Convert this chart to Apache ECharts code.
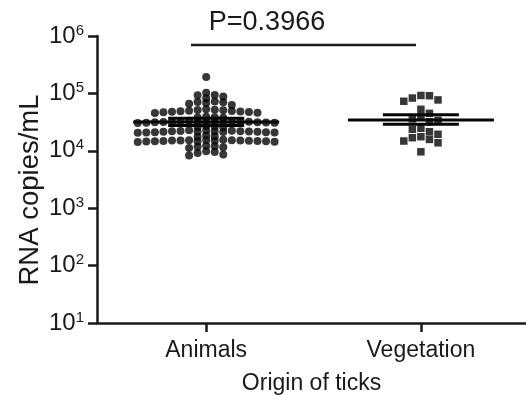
<!DOCTYPE html>
<html>
<head>
<meta charset="utf-8">
<script src="https://cdn.jsdelivr.net/npm/echarts@6/dist/echarts.min.js"></script>
<style>
  html, body { margin: 0; padding: 0; background: #fff; }
  #chart { width: 526px; height: 395px; }
</style>
</head>
<body>
<div id="chart"></div>
<script>
// data (RNA copies/mL)
const categories = ["Animals", "Vegetation"];
const animals = [
  193000,
  103000, 94000, 88000, 82000, 93000,
  72000, 68000, 63000, 70000, 66000, 71000,
  51000, 49000, 48000, 47000, 52000, 53000, 50000, 46000, 45500, 48500, 49500, 51500, 47500,
  39000, 38000, 37500, 38500,
  32000, 31500, 32500, 31000, 33000, 31800, 32200, 30800, 31200, 32800, 31600, 30500, 33500, 32400, 31400, 30900, 32100,
  26500, 26000, 25500, 27000,
  22000, 21500, 21800, 22500, 21200, 21000, 22200, 21600, 20800, 22800, 21400, 21900, 20600, 22400, 21100, 20900, 21700,
  18500, 18000, 17600,
  15000, 14800, 15200, 14600, 15400, 14500, 14900, 15100, 14700, 15300, 14400, 15600, 14300, 15050, 14850, 15150, 14650,
  12300, 11800, 11500, 12000, 11200,
  9800, 9500, 9200, 8600, 8300
];
const vegetation = [
  92000, 91000, 83000, 77000, 73000,
  52800, 44900, 39000, 36000, 34000, 32000,
  24700, 23700, 21500, 19400, 17600, 16900, 15800, 14800, 13800,
  9600
];
const means = [31800, 34500];
const upperBars = [37000, 42500];
const lowerBars = [27500, 29000];
const pLabel = "P=0.3966";

// layout
const catPos = [0.2545, 0.755];
const FONT = '"Liberation Sans", Arial, Helvetica, sans-serif';
const INK = "#1a1a1a";
const DOT = "#050505";

const chart = echarts.init(document.getElementById("chart"));

const option = {
  animation: false,
  backgroundColor: "#fff",
  textStyle: { fontFamily: FONT, color: INK },
  grid: { left: 97, right: 0, top: 36, bottom: 72, outerBoundsMode: "none", containLabel: false },
  xAxis: {
    type: "value",
    min: 0,
    max: 1,
    name: "Origin of ticks",
    nameLocation: "middle",
    nameGap: 49,
    nameTextStyle: { fontSize: 23, color: INK, fontFamily: FONT },
    axisLine: { show: true, lineStyle: { color: INK, width: 2.5 } },
    axisTick: { show: true, length: 9, customValues: catPos, lineStyle: { color: INK, width: 2.5 } },
    axisLabel: {
      customValues: catPos,
      margin: 16,
      fontSize: 23,
      color: INK,
      fontFamily: FONT,
      formatter: (v) => categories[catPos.indexOf(v)] || "",
    },
    splitLine: { show: false },
  },
  yAxis: {
    type: "log",
    logBase: 10,
    min: 10,
    max: 1000000,
    axisLine: { show: true, lineStyle: { color: INK, width: 2.5 } },
    axisTick: { show: true, length: 9, lineStyle: { color: INK, width: 2.5 } },
    axisLabel: {
      margin: 13,
      color: INK,
      formatter: (v) => "{b|10}{s|" + Math.round(Math.log10(v)) + "}",
      rich: {
        b: { fontSize: 24, fontFamily: FONT, color: INK, lineHeight: 26 },
        s: { fontSize: 15, fontFamily: FONT, color: INK, verticalAlign: "top", lineHeight: 15 },
      },
    },
    splitLine: { show: false },
  },
  graphic: [
    {
      type: "text",
      x: 30,
      y: 190,
      rotation: Math.PI / 2,
      style: { text: "RNA copies/mL", fontSize: 27.5, fontFamily: FONT, fill: INK, align: "center", verticalAlign: "middle" },
    },
    {
      type: "text",
      x: 267,
      y: 23,
      style: { text: pLabel, fontSize: 27, fontFamily: FONT, fill: INK, align: "center", verticalAlign: "middle" },
    },
    {
      type: "line",
      shape: { x1: 191, y1: 45, x2: 416, y2: 45 },
      style: { stroke: INK, lineWidth: 2.5 },
    },
  ],
  series: [],
};
chart.setOption(option);

// beeswarm: points sit in columns of fixed width, pushed sideways when too close vertically
const slotW = 8.55;
const pxPerUnit = chart.convertToPixel({ xAxisIndex: 0 }, 1) - chart.convertToPixel({ xAxisIndex: 0 }, 0);

function swarm(values, center, minSep) {
  const pts = values
    .map((v) => ({ v, py: chart.convertToPixel({ yAxisIndex: 0 }, v) }))
    .sort((a, b) => b.v - a.v);
  const cols = {};
  const out = [];
  pts.forEach((p) => {
    for (let i = 0; i < 80; i++) {
      const k = i === 0 ? 0 : i % 2 ? (i + 1) / 2 : -i / 2;
      const col = cols[k] || (cols[k] = []);
      if (col.every((y) => Math.abs(y - p.py) >= minSep)) {
        col.push(p.py);
        out.push([center + (k * slotW) / pxPerUnit, p.v]);
        break;
      }
    }
  });
  return out;
}

const barData = catPos.map((x, i) => [x, means[i], upperBars[i], lowerBars[i]]);

chart.setOption({
  series: [
    {
      type: "custom",
      data: barData,
      z: 3,
      renderItem: (params, api) => {
        const m = api.coord([api.value(0), api.value(1)]);
        const u = api.coord([api.value(0), api.value(2)]);
        const l = api.coord([api.value(0), api.value(3)]);
        const st = { stroke: DOT, lineWidth: 3 };
        return {
          type: "group",
          children: [
            { type: "line", shape: { x1: m[0] - 73, y1: m[1], x2: m[0] + 73, y2: m[1] }, style: st },
            { type: "line", shape: { x1: u[0] - 38, y1: u[1], x2: u[0] + 38, y2: u[1] }, style: st },
            { type: "line", shape: { x1: l[0] - 38, y1: l[1], x2: l[0] + 38, y2: l[1] }, style: st },
          ],
        };
      },
    },
    {
      name: "Animals",
      type: "scatter",
      symbol: "circle",
      symbolSize: 8,
      itemStyle: { color: DOT },
      data: swarm(animals, catPos[0], 4.5),
    },
    {
      name: "Vegetation",
      type: "scatter",
      symbol: "rect",
      symbolSize: 7.5,
      itemStyle: { color: DOT },
      data: swarm(vegetation, catPos[1], 7.5),
    },
  ],
});
</script>
</body>
</html>
